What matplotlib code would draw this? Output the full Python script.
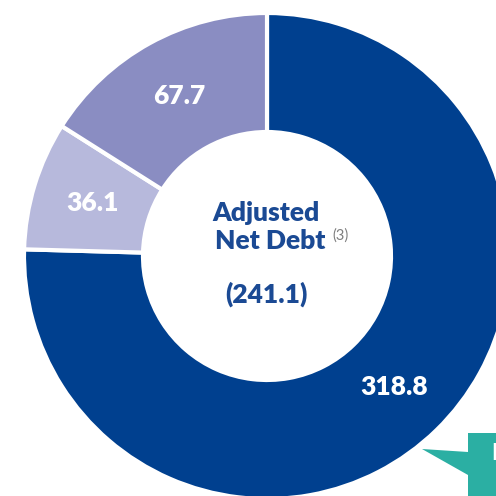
import matplotlib
matplotlib.use("Agg")
import matplotlib.pyplot as plt
from matplotlib.patches import Polygon

# data, clockwise from 12 o'clock
values = [318.8, 36.1, 67.7]
labels = ["318.8", "36.1", "67.7"]
colors = ["#00408F", "#B7B9DC", "#8A8DC2"]
center_title = ["Adjusted", "Net Debt"]
center_value = "(241.1)"
footnote = "(3)"

NAVY = "#1B4A94"
TEAL = "#2BAFA3"
FONT = "Lato"
WEIGHT = "heavy"

fig = plt.figure(figsize=(4.96, 4.96), dpi=100)
ax = fig.add_axes([0, 0, 1, 1])

lab_iter = iter(labels)
wedges, _, autotexts = ax.pie(
    values, colors=colors, startangle=90, counterclock=False,
    center=(267, 240), radius=243,
    wedgeprops=dict(width=119, edgecolor="white", linewidth=3),
    autopct=lambda p: next(lab_iter), pctdistance=0.75,
)
for t in autotexts:
    t.set_color("white"); t.set_fontsize(19)
    t.set_fontweight(WEIGHT); t.set_family(FONT)

# centre text
ax.text(266, 283, center_title[0], ha="center", va="center", color=NAVY,
        fontsize=19, fontweight=WEIGHT, family=FONT)
ax.text(270, 255, center_title[1], ha="center", va="center", color=NAVY,
        fontsize=19, fontweight=WEIGHT, family=FONT)
ax.text(332, 260, footnote, ha="left", va="center", color="#7F7F7F",
        fontsize=10.5, family=FONT)
ax.text(266, 202, center_value, ha="center", va="center", color=NAVY,
        fontsize=19, fontweight=WEIGHT, family=FONT)

# teal callout poking in at bottom right
ax.add_patch(Polygon([(422, 47), (468, 44), (468, 63), (505, 63),
                      (505, -10), (468, -10), (468, 21)],
                     closed=True, facecolor=TEAL, edgecolor="none"))
ax.text(491, 42, "D", ha="left", va="center", color="white",
        fontsize=16, fontweight="bold", family=FONT)

ax.set_xlim(0, 496); ax.set_ylim(0, 496)
ax.set_aspect("equal")
ax.axis("off")
fig.savefig("out.png", dpi=100)
